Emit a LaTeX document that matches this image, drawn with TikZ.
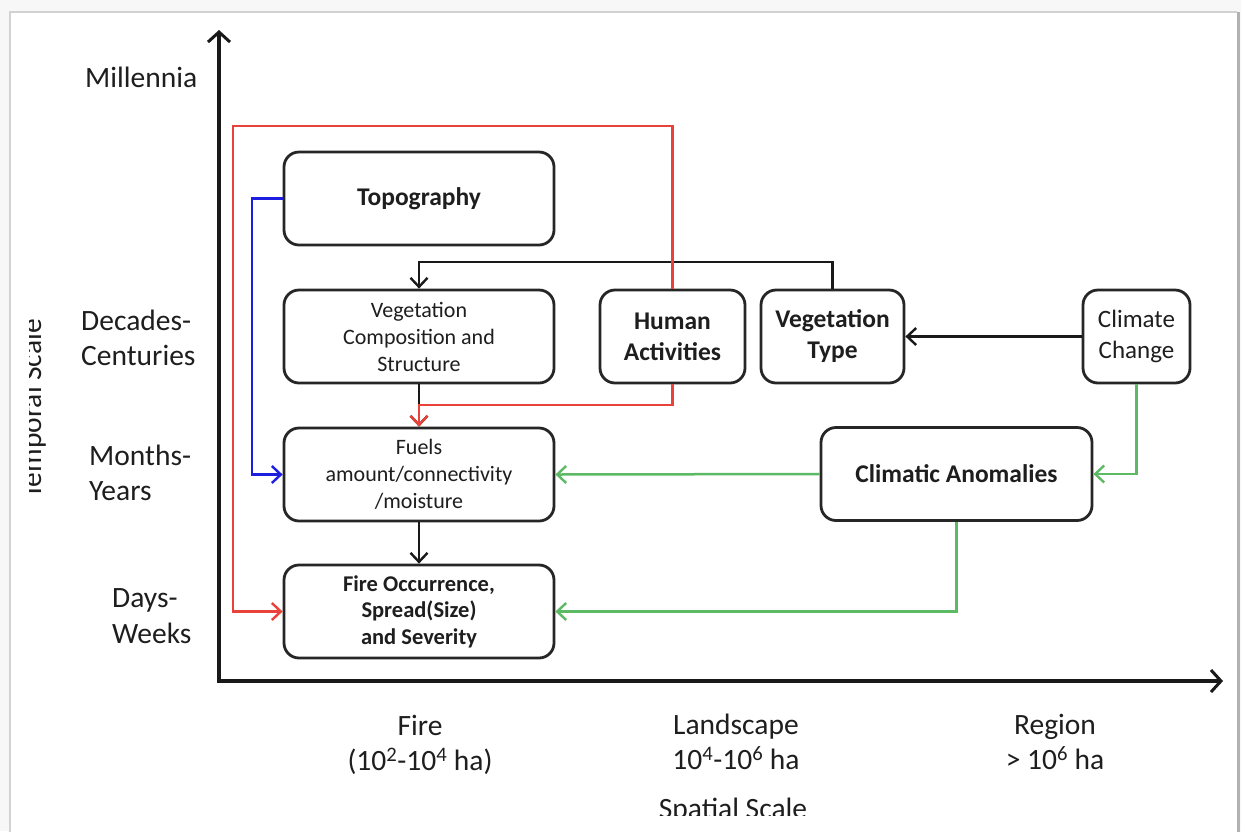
\documentclass[tikz,border=0pt]{standalone}
\usepackage{fontspec}
\setmainfont{Carlito}
\usetikzlibrary{arrows.meta}
\definecolor{redl}{RGB}{232,66,58}
\definecolor{bluel}{RGB}{30,30,225}
\definecolor{greenl}{RGB}{92,186,100}
\definecolor{txt}{RGB}{30,30,30}
\begin{document}
\begin{tikzpicture}[x=1pt,y=-1pt,
  box/.style={draw=black!85,line width=2.8pt,rounded corners=15pt,minimum width=#1,minimum height=93pt,align=center,inner sep=0pt,text=txt},
  box/.default=270pt,
  bigb/.style={font=\fontsize{25.5}{31}\selectfont\bfseries},
  bigr/.style={font=\fontsize{25}{31}\selectfont},
  smb/.style={font=\fontsize{22.5}{26.5}\selectfont\bfseries},
  smr/.style={font=\fontsize{22}{27}\selectfont},
  lab/.style={font=\fontsize{29.5}{35.5}\selectfont,text=txt,inner sep=0pt},
  tip/.style={-{Straight Barb[length=9pt,width=17pt,line width=2.4pt]}},
  conn/.style={line width=2.5pt,line join=miter},
  axis/.style={line width=3.2pt,draw=black!90,line join=miter,{Straight Barb[length=10pt,width=22pt,line width=3pt]}-{Straight Barb[length=10pt,width=22pt,line width=3pt]}}
]
\useasboundingbox (0,0) rectangle (1241,831);
% page
\fill[gray!6] (0,0) rectangle (1241,831);
\fill[white] (10,12) rectangle (1237,840);
\draw[gray!35,line width=1.5pt] (10,840) -- (10,12) -- (1237,12);
\draw[gray!60,line width=3pt] (1238.5,12) -- (1238.5,840);

% axes
\coordinate (ytop) at (219,30);
\coordinate (O) at (219,681);
\coordinate (xend) at (1223,681);
\draw[axis] (ytop) -- (O) -- (xend);

% temporal labels
\node[lab,anchor=base west] (mil) at (85,87) {Millennia};
\node[lab,anchor=west,align=left] (dec) at (81,338) {Decades-\\Centuries};
\node[lab,anchor=west,align=left] (mon) at (89,473) {Months-\\Years};
\node[lab,anchor=west,align=left] (day) at (112,616) {Days-\\Weeks};
\begin{scope}
\clip (29,0) rectangle (100,831);
\node[lab,rotate=90,anchor=base] (tsc) at (41,409) {Temporal Scale};
\end{scope}

% spatial labels
\node[lab,align=center] (sfire) at (420,745) {Fire\\(10\textsuperscript{2}-10\textsuperscript{4} ha)};
\node[lab,align=center] (sland) at (736,742) {Landscape\\10\textsuperscript{4}-10\textsuperscript{6} ha};
\node[lab,align=center] (sreg) at (1055,742) {Region\\> 10\textsuperscript{6} ha};
\begin{scope}
\clip (0,0) rectangle (1241,815);
\node[lab,anchor=base] (ssc) at (733,818) {Spatial Scale};
\end{scope}

% boxes
\node[box,bigb] (topo) at (419,198.5) {Topography};
\node[box,smr] (vegcomp) at (419,336.5) {Vegetation\\Composition and\\Structure};
\node[box=145pt,bigb] (human) at (672.5,336.5) {Human\\Activities};
\node[box=143pt,bigb] (vegtype) at (832.5,336.5) {Vegetation\\Type};
\node[box=107pt,bigr] (clim) at (1136.5,336.5) {Climate\\Change};
\node[box,smr] (fuels) at (419,474.5) {Fuels\\amount/connectivity\\/moisture};
\node[box=271pt,bigb] (anom) at (956.5,474) {Climatic Anomalies};
\node[box,smb] (fire) at (419,611.5) {Fire Occurrence,\\Spread(Size)\\and Severity};

% bend points
\coordinate (rtl) at (233,126);
\coordinate (rj) at (672.5,405);
\coordinate (bj) at (832.5,262);
\coordinate (bl) at (252,198.5);

% black connectors
\draw[conn,tip,black!90] (vegtype.north) -- (bj) -| (vegcomp.north);
\draw[conn,tip,black!90] (clim.west) -- (vegtype.east);
\draw[conn,tip,black!90] (vegcomp.south) -- (fuels.north);
\draw[conn,tip,black!90] (fuels.south) -- (fire.north);
% blue
\draw[conn,tip,bluel] (topo.west) -- (bl) |- (fuels.west);
% red
\draw[conn,tip,redl] (human.north) |- (rtl) |- (fire.west);
\draw[conn,tip,redl] (human.south) -- (rj) -| (fuels.north);
% green
\draw[conn,tip,greenl] (clim.south) |- (anom.east);
\draw[conn,tip,greenl] (anom.west) -- (fuels.east);
\draw[conn,tip,greenl] (anom.south) |- (fire.east);
\end{tikzpicture}
\end{document}
